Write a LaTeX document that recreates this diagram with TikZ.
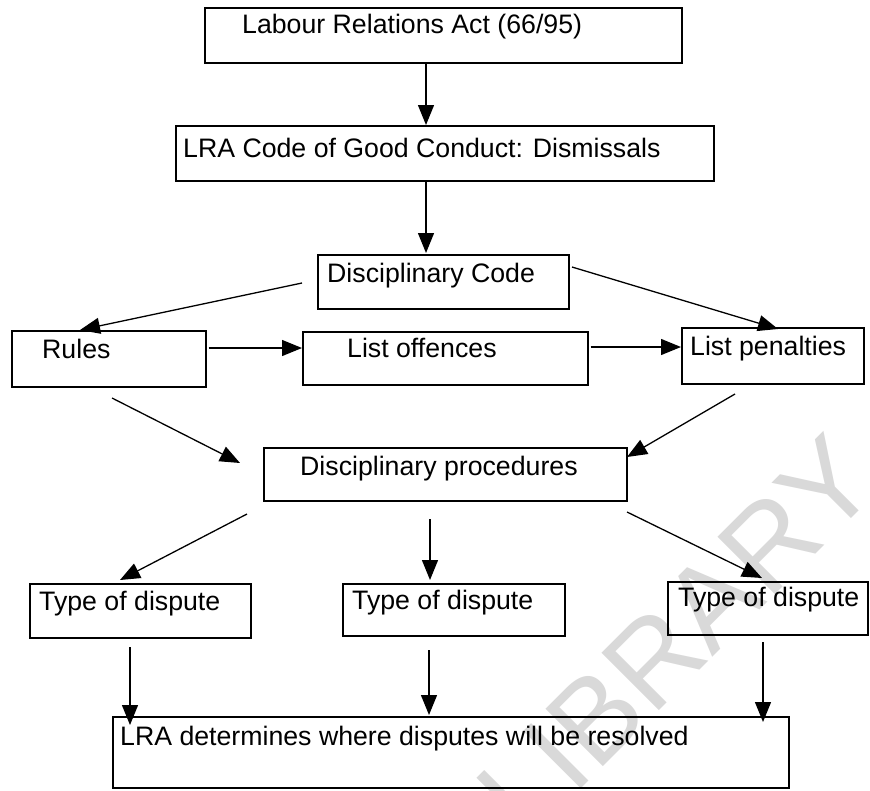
\documentclass[tikz,border=0pt]{standalone}
\usepackage{fontspec}
\setmainfont{Liberation Sans}
\usetikzlibrary{arrows.meta}
\begin{document}
\begin{tikzpicture}[x=1pt,y=-1pt,
  box/.style={draw, line width=1.5pt, inner sep=0pt, anchor=north west},
  lbl/.style={inner sep=0pt, anchor=base west, font=\fontsize{26.7}{30}\selectfont},
  link/.style={line width=1.3pt, -{Triangle[length=20pt,width=16pt]}},
  stamp/.style={inner sep=0pt, anchor=base west, rotate=45, text=black!15,
    font=\fontsize{118}{118}\selectfont}
]
\useasboundingbox (0,0) rectangle (870,790);
\fill[white] (0,0) rectangle (870,790);

% library stamp behind the chart
\node[stamp] (stampT) at (527,843) {LIBRARY};

% boxes
\node[box, minimum width=477pt, minimum height=55pt] (act)     at (204,7)   {};
\node[box, minimum width=538pt, minimum height=55pt] (conduct) at (175,125) {};
\node[box, minimum width=251pt, minimum height=54pt] (code)    at (317,254) {};
\node[box, minimum width=194pt, minimum height=56pt] (rules)   at (11,330)  {};
\node[box, minimum width=285pt, minimum height=53pt] (off)     at (302,331) {};
\node[box, minimum width=182pt, minimum height=56pt] (pen)     at (681,327) {};
\node[box, minimum width=363pt, minimum height=53pt] (proc)    at (263,447) {};
\node[box, minimum width=221pt, minimum height=54pt] (t1)      at (29,583)  {};
\node[box, minimum width=222pt, minimum height=52pt] (t2)      at (342,583) {};
\node[box, minimum width=200pt, minimum height=53pt] (t3)      at (667,581) {};
\node[box, minimum width=676pt, minimum height=71pt] (lra)     at (112,716) {};

% labels
\node[lbl] (actT)     at (242,33)  {Labour Relations Act (66/95)};
\node[lbl] (conductT) at (183,157) {LRA Code of Good Conduct: Dismissals};
\node[lbl] (codeT)    at (327,282) {Disciplinary Code};
\node[lbl] (rulesT)   at (42,358)  {Rules};
\node[lbl] (offT)     at (347,357) {List offences};
\node[lbl] (penT)     at (690,355) {List penalties};
\node[lbl] (procT)    at (300,475) {Disciplinary procedures};
\node[lbl] (t1T)      at (39,610)  {Type of dispute};
\node[lbl] (t2T)      at (352,609) {Type of dispute};
\node[lbl] (t3T)      at (678,606) {Type of dispute};
\node[lbl] (lraT)     at (120,745) {LRA determines where disputes will be resolved};

% connector columns and free ends
\coordinate (colA) at (426,0);
\coordinate (codeL)  at (302,283);
\coordinate (codeR)  at (572,267);
\coordinate (rulesB) at (112,398);
\coordinate (procL)  at (240,463);
\coordinate (penB)   at (735,394);
\coordinate (procR)  at (627,457);
\coordinate (procBL) at (247,514);
\coordinate (procBM) at (430,519);
\coordinate (procBR) at (627,512);
\coordinate (t1B)    at (130,647);
\coordinate (t2B)    at (429,650);
\coordinate (t3B)    at (763,642);
\coordinate (lraA)   at (130,725);
\coordinate (lraB)   at (429,715);
\coordinate (lraC)   at (763,722);

% connectors
\draw[link] (act.south -| colA) -- (conduct.north -| colA);
\draw[link] (conduct.south -| colA) -- ([yshift=1pt]code.north -| colA);
\draw[link] (codeL) -- (rules.north -| 80,0);
\draw[link] (codeR) -- ([yshift=-2pt]pen.north -| 778,0);
\draw[link] ([xshift=2pt]rules.east |- 0,348) -- (off.west |- 0,348);
\draw[link] ([xshift=2pt]off.east |- 0,347) -- (pen.west |- 0,347);
\draw[link] (rulesB) -- (procL);
\draw[link] (penB) -- (procR);
\draw[link] (procBL) -- ([yshift=3pt]t1.north -| 120,0);
\draw[link] (procBM) -- ([yshift=3pt]t2.north -| procBM);
\draw[link] (procBR) -- ([yshift=3pt]t3.north -| 762,0);
\draw[link] (t1B) -- (lraA);
\draw[link] (t2B) -- (lraB);
\draw[link] (t3B) -- (lraC);
\end{tikzpicture}
\end{document}
